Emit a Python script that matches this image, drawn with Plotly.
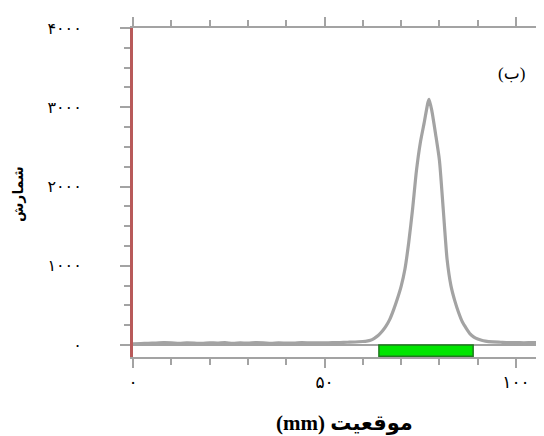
import plotly.graph_objects as go

# ---- data ----
position_mm = [0, 2, 4, 6, 8, 10, 12, 14, 16, 18, 20, 22, 24, 26, 28, 30, 32, 34, 36, 38,
               40, 42, 44, 46, 48, 50, 52, 54, 56, 58, 60, 61, 62, 63, 64, 65, 66, 67, 68, 69,
               70, 71, 72, 73, 74, 75, 76, 77, 77.3, 78, 79, 80, 81, 82, 83, 84, 85, 86, 87,
               88, 89, 90, 91, 92, 94, 96, 98, 100, 102, 104, 106, 107.3]
counts = [15, 18, 22, 25, 30, 28, 22, 26, 24, 20, 28, 24, 30, 22, 26, 24, 30, 28, 22, 27,
          25, 24, 30, 28, 26, 28, 30, 32, 35, 38, 45, 50, 60, 85, 120, 170, 235, 320, 440, 580,
          740, 960, 1300, 1720, 2200, 2550, 2800, 3060, 3100, 2960, 2660, 2330, 1710, 1080, 750, 560, 410, 290, 210,
          140, 100, 75, 60, 50, 40, 35, 30, 32, 28, 30, 30, 28]

window_mm = [64.2, 88.8]          # green window on the position axis
x_ticks = [0, 50, 100]
x_ticktext = ["۰", "۵۰", "۱۰۰"]
y_ticks = [0, 1000, 2000, 3000, 4000]
y_ticktext = ["۰", "۱۰۰۰", "۲۰۰۰", "۳۰۰۰", "۴۰۰۰"]
x_title = "موقعیت (mm)"
y_title = "شمارش"
panel_label = "(ب)"

X_RANGE = [0, 107.3]
Y_RANGE = [-151, 4000]

GRAY = "#a3a3a3"
FONT = "Liberation Serif, DejaVu Sans, serif"
RLE, PDF = "\u202b", "\u202c"

fig = go.Figure()

fig.add_shape(type="rect", xref="x", yref="y",
              x0=window_mm[0], x1=window_mm[1], y0=Y_RANGE[0] + 8, y1=0,
              fillcolor="#00e600", line=dict(color="#1f7a1f", width=1.5), layer="above")

fig.add_trace(go.Scatter(x=position_mm, y=counts, mode="lines",
                         line=dict(color=GRAY, width=3.2, shape="spline", smoothing=0.6),
                         hoverinfo="skip", showlegend=False))

fig.update_layout(
    width=536, height=428,
    margin=dict(l=125, r=0, t=20, b=79),
    paper_bgcolor="white", plot_bgcolor="white",
    font=dict(family=FONT, size=15, color="black"),
    xaxis=dict(range=X_RANGE, showgrid=False, zeroline=False,
               showline=True, linecolor=GRAY, linewidth=2, mirror="ticks",
               ticks="outside", ticklen=9, tickwidth=2, tickcolor=GRAY,
               tickvals=x_ticks, ticktext=x_ticktext, ticklabelstandoff=0,
               tickfont=dict(size=17),
               minor=dict(dtick=10, ticks="outside", ticklen=6, tickwidth=2, tickcolor=GRAY),
               fixedrange=True),
    yaxis=dict(range=Y_RANGE, showgrid=False,
               zeroline=True, zerolinecolor=GRAY, zerolinewidth=2,
               showline=True, linecolor="#b85a5a", linewidth=3,
               ticks="outside", ticklen=10, tickwidth=2, tickcolor=GRAY,
               tickvals=y_ticks, ticktext=y_ticktext, ticklabelstandoff=35,
               tickfont=dict(size=16),
               minor=dict(dtick=250, tick0=0, ticks="outside", ticklen=6, tickwidth=2, tickcolor=GRAY),
               fixedrange=True),
    annotations=[
        dict(text=panel_label, xref="paper", yref="paper", x=0.958, y=0.897,
             showarrow=False, font=dict(size=17, color="black")),
        dict(text="<b>" + RLE + x_title + PDF + "</b>", xref="paper", yref="paper",
             x=(344 - 133) / 411, y=-(423 - 357) / 329, yanchor="middle",
             showarrow=False, font=dict(size=21, color="black")),
        dict(text="<b>" + y_title + "</b>", xref="paper", yref="paper",
             x=-(133 - 18) / 411, y=(357 - 194) / 329, textangle=-90,
             xanchor="center", yanchor="middle",
             showarrow=False, font=dict(size=14, color="black")),
    ],
)

fig.write_html("out.html")
